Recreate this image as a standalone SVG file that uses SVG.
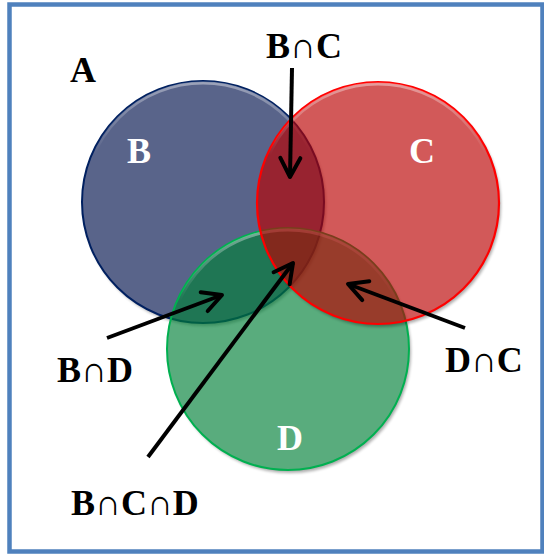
<svg xmlns="http://www.w3.org/2000/svg" width="544" height="554" viewBox="0 0 544 554">
<style>
.lbl{font-family:"Liberation Serif","DejaVu Serif",serif;font-weight:bold;font-size:36px;fill:#000}
.wl{font-family:"Liberation Serif","DejaVu Serif",serif;font-weight:bold;font-size:36px;fill:#fff}
.arr{stroke:#000;stroke-width:4;fill:none;marker-end:url(#ah)}
.shadow{fill:#000;opacity:0.32;filter:url(#blur)}
.hl{fill:none;stroke:url(#hlg);stroke-width:3}
</style>
<defs>
<filter id="blur" x="-10%" y="-10%" width="120%" height="120%"><feGaussianBlur stdDeviation="1.5"/></filter>
<linearGradient id="hlg" x1="0" y1="0" x2="0" y2="1"><stop offset="0" stop-color="#fff" stop-opacity="0.4"/><stop offset="0.3" stop-color="#fff" stop-opacity="0"/></linearGradient>
<marker id="ah" markerUnits="userSpaceOnUse" markerWidth="30" markerHeight="30" viewBox="-25 -15 30 30" refX="0" refY="0" orient="auto" overflow="visible"><path d="M-19,-10 L0,0 L-19,10" fill="none" stroke="#000" stroke-width="4" stroke-linecap="round" stroke-linejoin="round"/></marker>
<mask id="mB"><rect width="544" height="554" fill="#fff"/><circle cx="203" cy="202" r="121" fill="#000"/></mask>
<mask id="mC"><rect width="544" height="554" fill="#fff"/><circle cx="378" cy="203" r="121" fill="#000"/></mask>
<mask id="mD"><rect width="544" height="554" fill="#fff"/><circle cx="288" cy="349" r="121" fill="#000"/></mask>
</defs>
<rect x="0" y="0" width="544" height="554" fill="#fff"/>
<rect id="A" x="9.5" y="4.5" width="533" height="547" fill="none" stroke="#4f81bd" stroke-width="4.5"/>
<text class="lbl" x="70" y="82">A</text>
<g id="B">
<circle class="shadow" cx="205" cy="205" r="121" mask="url(#mB)"/>
<circle cx="203" cy="202" r="121" fill="#00114b" fill-opacity="0.65" stroke="#002060" stroke-width="2"/>
<circle class="hl" cx="203" cy="202" r="119"/>
<text class="wl" x="127" y="163">B</text>
</g>
<g id="D">
<circle class="shadow" cx="290" cy="352" r="121" mask="url(#mD)"/>
<circle cx="288" cy="349" r="121" fill="#007f37" fill-opacity="0.65" stroke="#00b050" stroke-width="2"/>
<circle class="hl" cx="288" cy="349" r="119"/>
<text class="wl" x="277" y="450">D</text>
</g>
<g id="C">
<circle class="shadow" cx="380" cy="206" r="121" mask="url(#mC)"/>
<circle cx="378" cy="203" r="121" fill="#ba0000" fill-opacity="0.65" stroke="#ff0000" stroke-width="2.2"/>
<circle class="hl" cx="378" cy="203" r="119"/>
<text class="wl" x="409" y="163">C</text>
</g>
<g id="connectors">
<line class="arr" x1="292" y1="68" x2="290" y2="177"/>
<line class="arr" x1="107" y1="338" x2="222" y2="295"/>
<line class="arr" x1="465" y1="328" x2="348" y2="284"/>
<line class="arr" x1="148" y1="457" x2="293" y2="263"/>
</g>
<text class="lbl" x="266" y="58">B∩C</text>
<text class="lbl" x="57" y="382">B∩D</text>
<text class="lbl" x="445" y="372">D∩C</text>
<text class="lbl" x="71" y="515">B∩C∩D</text>
</svg>
